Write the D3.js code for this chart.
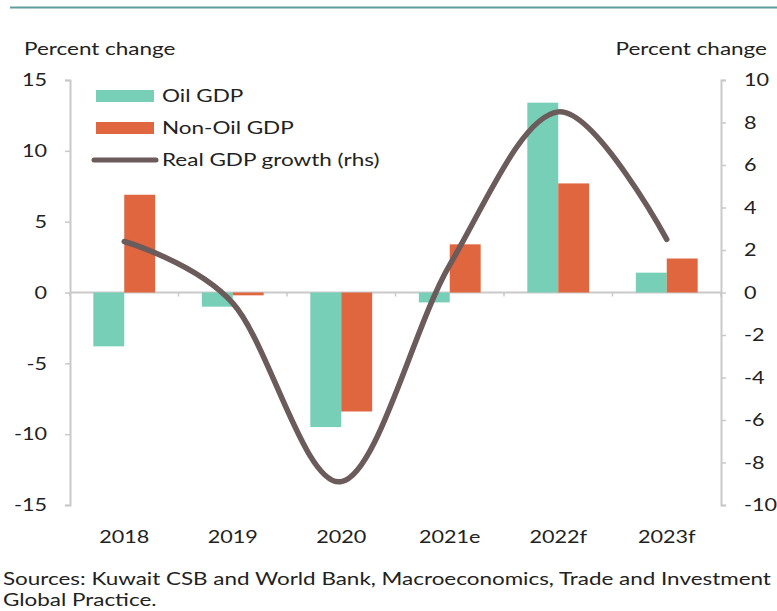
<!DOCTYPE html>
<html>
<head>
<meta charset="utf-8">
<script src="https://cdn.jsdelivr.net/npm/d3@7"></script>
<style>
  body { margin: 0; background: #fff; }
  svg text { font-family: Lato, "Open Sans", sans-serif; fill: #222; }
</style>
</head>
<body>
<div id="chart"></div>
<script>
const years = ['2018', '2019', '2020', '2021e', '2022f', '2023f'];
const oilGdp = [-3.8, -1.0, -9.5, -0.7, 13.4, 1.4];
const nonOilGdp = [6.9, -0.2, -8.4, 3.4, 7.7, 2.4];
const realGdp = [2.4, -0.5, -8.9, 1.3, 8.5, 2.5];
const leftTicks = [15, 10, 5, 0, -5, -10, -15];
const rightTicks = [10, 8, 6, 4, 2, 0, -2, -4, -6, -8, -10];

const oilColor = '#76cfb6';
const nonOilColor = '#e0663f';
const lineColor = '#6b5b5b';
const axisColor = '#c9c9c9';

// the source picture's type is wider than Lato, so stretch text horizontally
function stretch(selection, k) {
  selection.each(function() {
    const t = d3.select(this);
    const x = +t.attr('x') || 0;
    t.attr('x', x / k).attr('transform', `scale(${k},1)`);
  });
}

function main() {
  const svgWidth = 777;
  const svgHeight = 611;
  const margin = { top: 80, bottom: 106, left: 70, right: 56 };
  const chartWidth = svgWidth - margin.left - margin.right;
  const chartHeight = svgHeight - margin.top - margin.bottom;

  const svg = d3.select('#chart').append('svg')
    .attr('width', svgWidth)
    .attr('height', svgHeight);

  // top rule
  svg.append('line')
    .attr('x1', 10).attr('x2', svgWidth)
    .attr('y1', 7.5).attr('y2', 7.5)
    .attr('stroke', '#5e9c9e')
    .attr('stroke-width', 2);

  const g = svg.append('g').attr('transform', `translate(${margin.left}, ${margin.top})`);

  const x = d3.scaleBand().domain(years).range([0, chartWidth]);
  const yLeft = d3.scaleLinear().domain([-15, 15]).range([chartHeight, 0]);
  const yRight = d3.scaleLinear().domain([-10, 10]).range([chartHeight, 0]);

  const barWidth = x.bandwidth() * 0.285;

  // zero line with category ticks
  g.append('line')
    .attr('x1', 0).attr('x2', chartWidth)
    .attr('y1', yLeft(0)).attr('y2', yLeft(0))
    .attr('stroke', axisColor).attr('stroke-width', 2);
  g.selectAll('.cat-tick')
    .data(d3.range(years.length + 1))
    .enter().append('line')
    .attr('x1', i => i * x.step()).attr('x2', i => i * x.step())
    .attr('y1', yLeft(0)).attr('y2', yLeft(0) + 4)
    .attr('stroke', axisColor).attr('stroke-width', 1.5);

  // left axis
  const leftAxis = g.append('g')
    .call(d3.axisLeft(yLeft).tickValues(leftTicks).tickSize(5).tickPadding(18).tickFormat(d3.format('d')));
  leftAxis.select('.domain').attr('stroke', axisColor).attr('stroke-width', 2);
  leftAxis.selectAll('.tick line').attr('stroke', axisColor).attr('stroke-width', 1.5);
  leftAxis.selectAll('.tick text')
    .attr('fill', '#222')
    .style('font-size', '18px')
    .text(d => d < 0 ? '-' + Math.abs(d) : d)
    .call(stretch, 1.2);

  // right axis
  const rightAxis = g.append('g')
    .attr('transform', `translate(${chartWidth}, 0)`)
    .call(d3.axisRight(yRight).tickValues(rightTicks).tickSize(5).tickPadding(18).tickFormat(d3.format('d')));
  rightAxis.select('.domain').attr('stroke', axisColor).attr('stroke-width', 2);
  rightAxis.selectAll('.tick line').attr('stroke', axisColor).attr('stroke-width', 1.5);
  rightAxis.selectAll('.tick text')
    .attr('fill', '#222')
    .style('font-size', '18px')
    .text(d => d < 0 ? '-' + Math.abs(d) : d)
    .call(stretch, 1.2);

  // bars
  g.selectAll('.oil-bar')
    .data(years)
    .enter().append('rect')
    .attr('x', d => x(d) + x.bandwidth() / 2 - barWidth)
    .attr('y', (d, i) => yLeft(Math.max(0, oilGdp[i])))
    .attr('width', barWidth)
    .attr('height', (d, i) => Math.abs(yLeft(oilGdp[i]) - yLeft(0)))
    .attr('fill', oilColor);

  g.selectAll('.nonoil-bar')
    .data(years)
    .enter().append('rect')
    .attr('x', d => x(d) + x.bandwidth() / 2)
    .attr('y', (d, i) => yLeft(Math.max(0, nonOilGdp[i])))
    .attr('width', barWidth)
    .attr('height', (d, i) => Math.abs(yLeft(nonOilGdp[i]) - yLeft(0)))
    .attr('fill', nonOilColor);

  // real gdp line (rhs)
  const line = d3.line()
    .x((d, i) => x(years[i]) + x.bandwidth() / 2)
    .y(d => yRight(d))
    .curve(d3.curveCardinal.tension(0));

  g.append('path')
    .datum(realGdp)
    .attr('d', line)
    .attr('fill', 'none')
    .attr('stroke', lineColor)
    .attr('stroke-width', 5.5)
    .attr('stroke-linecap', 'round');

  // x labels
  g.selectAll('.x-label')
    .data(years)
    .enter().append('text')
    .attr('x', d => x(d) + x.bandwidth() / 2)
    .attr('y', chartHeight + 38)
    .attr('text-anchor', 'middle')
    .style('font-size', '18px')
    .text(d => d)
    .call(stretch, 1.2);

  // axis titles
  svg.append('text').attr('x', 24).attr('y', 55).style('font-size', '18px').text('Percent change')
    .call(stretch, 1.25);
  svg.append('text').attr('x', 767).attr('y', 55).attr('text-anchor', 'end').style('font-size', '18px').text('Percent change')
    .call(stretch, 1.25);

  // legend
  const legend = svg.append('g').attr('transform', 'translate(96, 90)');
  const legendItems = [
    { label: 'Oil GDP', type: 'rect', color: oilColor },
    { label: 'Non-Oil GDP', type: 'rect', color: nonOilColor },
    { label: 'Real GDP growth (rhs)', type: 'line', color: lineColor }
  ];
  legendItems.forEach(function(item, i) {
    const row = legend.append('g').attr('transform', `translate(0, ${i * 32})`);
    if (item.type === 'rect') {
      row.append('rect').attr('x', 0).attr('y', 0).attr('width', 58).attr('height', 12).attr('fill', item.color);
    } else {
      row.append('line').attr('x1', -2).attr('x2', 60).attr('y1', 6).attr('y2', 6)
        .attr('stroke', item.color).attr('stroke-width', 5).attr('stroke-linecap', 'round');
    }
    row.append('text').attr('x', 66).attr('y', 12).style('font-size', '18px').text(item.label)
      .call(stretch, 1.25);
  });

  // source note
  svg.append('text').attr('x', 3).attr('y', 585).style('font-size', '17px')
    .text('Sources: Kuwait CSB and World Bank, Macroeconomics, Trade and Investment')
    .call(stretch, 1.32);
  svg.append('text').attr('x', 3).attr('y', 606).style('font-size', '17px')
    .text('Global Practice.')
    .call(stretch, 1.32);
}

main();
</script>
</body>
</html>
